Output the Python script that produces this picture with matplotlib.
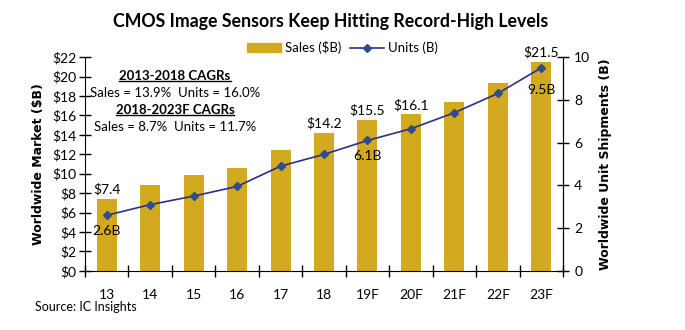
import matplotlib.pyplot as plt
import matplotlib.lines as mlines
import matplotlib.patches as mpatches

plt.rcParams['font.family'] = ['Lato', 'DejaVu Sans']

# --- data ---
years = ['13', '14', '15', '16', '17', '18', '19F', '20F', '21F', '22F', '23F']
sales = [7.4, 8.8, 9.9, 10.6, 12.4, 14.2, 15.5, 16.1, 17.4, 19.3, 21.5]
units = [2.6, 3.1, 3.5, 3.95, 4.9, 5.45, 6.1, 6.65, 7.4, 8.3, 9.5]
sales_labels = {0: '$7.4', 5: '$14.2', 6: '$15.5', 7: '$16.1', 10: '$21.5'}
unit_labels = {0: '2.6B', 6: '6.1B', 10: '9.5B'}

gold = '#D2A91F'
navy = '#2B2F8C'

fig = plt.figure(figsize=(6.85, 3.3), dpi=100)
ax = fig.add_axes([0.124, 0.179, 0.698, 0.648])
ax2 = ax.twinx()

x = list(range(len(years)))
ax.bar(x, sales, width=0.46, color=gold, zorder=2)
ax2.plot(x, units, color=navy, lw=1.2, marker='D', ms=4.5,
         mfc='#2E4C8F', mec='#2E4C8F', zorder=3)

ax.set_xlim(-0.5, len(years) - 0.5)
ax.set_ylim(0, 22)
ax2.set_ylim(0, 10)
ax.set_yticks(range(0, 23, 2))
ax.set_yticklabels(['$%d' % v for v in range(0, 23, 2)])
ax2.set_yticks(range(0, 11, 2))

# category ticks sit between bars
ax.set_xticks([i - 0.5 for i in range(len(years) + 1)], minor=False)
ax.set_xticklabels([])
ax.set_xticks(x, minor=True)
ax.set_xticklabels(years, minor=True)
ax.tick_params(axis='x', which='major', direction='inout', length=8, width=1)
ax.tick_params(axis='x', which='minor', length=0, pad=13, labelsize=10)
ax.tick_params(axis='y', direction='inout', length=8, width=1, labelsize=10, pad=2)
ax2.tick_params(axis='y', direction='inout', length=8, width=1, labelsize=10, pad=4)

for a in (ax, ax2):
    a.spines['top'].set_visible(False)
ax2.spines['left'].set_visible(False)
ax2.spines['bottom'].set_visible(False)

ax.set_ylabel('Worldwide Market ($B)', fontsize=9, fontweight='bold',
              family='DejaVu Sans', labelpad=5)
ax2.set_ylabel('Worldwide Unit Shipments (B)', fontsize=9, fontweight='bold',
               family='DejaVu Sans', labelpad=6)

for i, t in sales_labels.items():
    ax.text(x[i], sales[i] + 0.35, t, ha='center', va='bottom', fontsize=10)
for i, t in unit_labels.items():
    dy = 0.75 if i == len(years) - 1 else 0.45
    ax2.text(x[i], units[i] - dy, t, ha='center', va='top', fontsize=10)

fig.suptitle('CMOS Image Sensors Keep Hitting Record-High Levels',
             x=0.483, y=0.96, fontsize=12.8, fontweight='bold')

handles = [mpatches.Patch(color=gold, label='Sales ($B)'),
           mlines.Line2D([], [], color=navy, lw=1.2, marker='D', ms=4.5,
                         mfc='#2E4C8F', mec='#2E4C8F', label='Units (B)')]
fig.legend(handles=handles, loc='center', bbox_to_anchor=(0.5, 0.855), ncol=2,
           frameon=False, fontsize=9.5, handlelength=2.6, columnspacing=0.6,
           handletextpad=0.3)

# CAGR notes
cx = 175 / 685
heads = [('2013-2018 CAGRs', 1 - 76 / 330), ('2018-2023F CAGRs', 1 - 110 / 330)]
bodies = [('Sales = 13.9%  Units = 16.0%', 1 - 93 / 330),
          ('Sales = 8.7%  Units = 11.7%', 1 - 127 / 330)]
head_texts = []
for t, yy in heads:
    head_texts.append(fig.text(cx, yy, t, ha='center', va='center',
                               fontsize=9.5, fontweight='bold'))
for t, yy in bodies:
    fig.text(cx, yy, t, ha='center', va='center', fontsize=9.5)

fig.text(35 / 685, 1 - 307 / 330, 'Source: IC Insights', ha='left', va='center', fontsize=9)

fig.canvas.draw()
r = fig.canvas.get_renderer()
for ht in head_texts:
    bb = ht.get_window_extent(r).transformed(fig.transFigure.inverted())
    fig.add_artist(mlines.Line2D([bb.x0, bb.x1], [bb.y0 + 0.004, bb.y0 + 0.004],
                                 color='black', lw=1, transform=fig.transFigure))

fig.savefig('out.png', dpi=100)
